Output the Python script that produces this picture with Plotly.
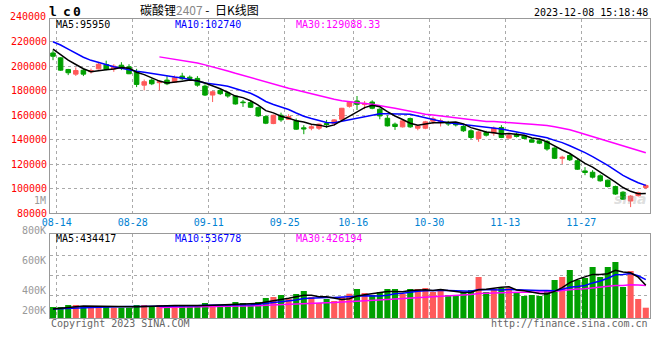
import plotly.graph_objects as go

# ---------------- data ----------------
dates = ["08-11",
         "08-14", "08-15", "08-16", "08-17", "08-18",
         "08-21", "08-22", "08-23", "08-24", "08-25",
         "08-28", "08-29", "08-30", "08-31", "09-01",
         "09-04", "09-05", "09-06", "09-07", "09-08",
         "09-11", "09-12", "09-13", "09-14", "09-15",
         "09-18", "09-19", "09-20", "09-21", "09-22",
         "09-25", "09-26", "09-27", "09-28",
         "10-09", "10-10", "10-11", "10-12", "10-13",
         "10-16", "10-17", "10-18", "10-19", "10-20",
         "10-23", "10-24", "10-25", "10-26", "10-27",
         "10-30", "10-31", "11-01", "11-02", "11-03",
         "11-06", "11-07", "11-08", "11-09", "11-10",
         "11-13", "11-14", "11-15", "11-16", "11-17",
         "11-20", "11-21", "11-22", "11-23", "11-24",
         "11-27", "11-28", "11-29", "11-30", "12-01",
         "12-04", "12-05", "12-06", "12-07"]

opens = [210800, 206800, 197300, 193500, 196700, 195400, 197800, 201300, 197800, 200800,
         199500, 195400, 184500, 188600, 186500, 188600, 187000, 191900, 191000, 190000,
         183700, 176400, 180200, 178300, 175600, 170700, 170200, 166100, 158800, 153100,
         159900, 156600, 155300, 149600, 149300, 149300, 153100, 153100, 156600, 167200,
         171550, 168600, 170700, 164800, 157450, 152600, 150400, 157200, 149300, 149300,
         155000, 154700, 153900, 153400, 150700, 147200, 140900, 145800, 145300, 149900,
         141200, 144400, 143100, 139800, 139000, 138500, 133100, 124700, 127000, 122700,
         114400, 113300, 110400, 106800, 101600, 97000, 89800, 94200, 100800]
highs = [213000, 207300, 197800, 199000, 197800, 198000, 203500, 204500, 201600, 203250,
         201600, 197800, 189100, 190000, 188600, 191900, 192400, 194600, 192400, 191900,
         185100, 180000, 181000, 179700, 175900, 172400, 171550, 167000, 159900, 160400,
         162000, 160700, 157200, 151800, 151800, 153100, 156100, 156600, 165900, 171300,
         175600, 171550, 172100, 165600, 159900, 153900, 155800, 158000, 152000, 155300,
         158800, 157200, 155300, 154400, 151800, 148500, 147200, 147200, 150700, 151800,
         145300, 145800, 143900, 140900, 140400, 139600, 133600, 126800, 128000, 124100,
         117500, 115000, 111600, 107400, 102400, 97800, 94600, 97500, 103500]
lows = [204900, 196200, 192700, 192000, 191900, 194000, 197300, 196700, 195400, 196800,
        193500, 182900, 180200, 184500, 180200, 184500, 186500, 188600, 188600, 183200,
        175600, 170700, 176400, 174200, 168600, 166700, 165800, 158500, 152600, 152600,
        154500, 156100, 147900, 144400, 147600, 147900, 149600, 151200, 156100, 166100,
        164200, 164800, 164800, 156600, 150700, 147900, 149900, 149600, 147600, 148500,
        152600, 150700, 151200, 150700, 146300, 140400, 138200, 142500, 143100, 141200,
        140900, 141700, 140400, 137600, 136300, 130900, 124100, 120000, 122500, 115200,
        110900, 108200, 105600, 100900, 94800, 90700, 84800, 93400, 99500]
closes = [208100, 196750, 194600, 196450, 193500, 196400, 201600, 197300, 200000, 199200,
          193800, 185100, 187300, 185600, 187300, 185600, 190500, 189700, 190000, 184500,
          176400, 179100, 177500, 175600, 169100, 170200, 166400, 159350, 153400, 159900,
          156100, 158800, 148500, 148800, 150400, 152600, 152300, 156100, 165600, 170500,
          168800, 169650, 165600, 159350, 151200, 150700, 155300, 150400, 151200, 154500,
          157000, 155300, 152800, 152000, 147200, 141700, 146300, 143600, 149300, 141700,
          143600, 142500, 140900, 137900, 137100, 132300, 124700, 125500, 123500, 115800,
          113100, 109300, 106300, 101700, 95500, 91300, 93800, 96650, 102500]
# closes of the 15 sessions before the first visible bar (used by the moving averages)
prior_closes = [214000, 216500, 219000, 221500, 220500, 221600, 224000, 228500, 229000,
                226500, 222000, 219500, 217500, 214000, 210870]

volumes = [237000, 237000, 257000, 257000, 247000, 230000, 247000, 247000, 230000, 230000,
           230000, 257000, 257000, 247000, 257000, 257000, 247000, 247000, 240000, 247000,
           277000, 257000, 257000, 257000, 287000, 277000, 257000, 287000, 327000, 337000,
           357000, 317000, 367000, 397000, 337000, 277000, 317000, 297000, 337000, 370000,
           417000, 377000, 357000, 387000, 417000, 417000, 367000, 417000, 417000, 427000,
           387000, 417000, 357000, 357000, 387000, 407000, 537000, 387000, 417000, 427000,
           427000, 377000, 347000, 357000, 347000, 407000, 507000, 537000, 607000, 507000,
           527000, 637000, 537000, 637000, 687000, 437000, 597000, 317000, 230000]
prior_volumes = [225000, 240000, 228000, 235000, 232000, 230000, 220000, 215000, 218000,
                 212000, 220000, 210000, 215000, 208000, 215000]

# latest moving-average readouts shown in the two legends
price_ma_last = ["95950", "102740", "129088.33"]
volume_ma_last = ["434417", "536778", "426194"]
ma_names = ["MA5", "MA10", "MA30"]

tick_dates = ["08-14", "08-28", "09-11", "09-25", "10-16", "10-30", "11-13", "11-27"]
price_ticks = [80000, 100000, 120000, 140000, 160000, 180000, 200000, 220000]
vol_grid = [357000, 557000, 757000]
vol_labels = ["800K", "600K", "400K", "200K"]

# ---------------- helpers ----------------
RED = "#ff5a5a"
GREEN = "#00a000"
MA_COLORS = ["#000000", "#0000ff", "#ff00ff"]
MONO = "DejaVu Sans Mono"

n = len(closes)
idx = list(range(n))


def moving_avg(prior, vals, w):
    allv = prior + vals
    off = len(prior)
    out = []
    for i in range(len(vals)):
        s = i + off - w + 1
        out.append(None if s < 0 else sum(allv[s:i + off + 1]) / w)
    return out


price_mas = [moving_avg(prior_closes, closes, w) for w in (5, 10, 30)]
vol_mas = [moving_avg(prior_volumes, volumes, w) for w in (5, 10, 30)]

tick_pos = [dates.index(d) - 0.5 for d in tick_dates]
vol_colors = [RED if c >= o else GREEN for o, c in zip(opens, closes)]

W, H = 660, 360
L, R, T, B = 50, 10, 19, 42
PB = H - B
PH = H - T - B


def px(x):
    return (x - L) / (W - L - R)


def py(y):
    return (PB - y) / PH


fig = go.Figure()

fig.add_trace(go.Candlestick(
    x=idx, open=opens, high=highs, low=lows, close=closes,
    increasing=dict(line=dict(color=RED, width=1), fillcolor=RED),
    decreasing=dict(line=dict(color=GREEN, width=1), fillcolor=GREEN),
    whiskerwidth=0, xaxis="x", yaxis="y", showlegend=False, hoverinfo="skip"))

for vals, col in reversed(list(zip(price_mas, MA_COLORS))):
    fig.add_trace(go.Scatter(x=idx, y=vals, mode="lines", line=dict(color=col, width=1.5),
                             xaxis="x", yaxis="y", showlegend=False, hoverinfo="skip"))

fig.add_trace(go.Bar(x=idx, y=volumes, marker=dict(color=vol_colors, line=dict(width=0)),
                     xaxis="x2", yaxis="y2", showlegend=False, hoverinfo="skip"))
for vals, col in reversed(list(zip(vol_mas, MA_COLORS))):
    fig.add_trace(go.Scatter(x=idx, y=vals, mode="lines", line=dict(color=col, width=1.5),
                             xaxis="x2", yaxis="y2", showlegend=False, hoverinfo="skip"))

xr = [(L - 53) / 7.6, (W - R - 53) / 7.6]
price_top = 80000 + (213 - T) * 817.3
vol_bottom = 200000 + (310.7 - PB) * 10000
vol_top = 200000 + (310.7 - 234) * 10000

axis_common = dict(showline=True, mirror=True, linecolor="#999999", linewidth=1,
                   showgrid=True, gridcolor="#aaaaaa", griddash="dot", gridwidth=1,
                   zeroline=False, ticks="")

fig.update_layout(
    width=W, height=H,
    margin=dict(l=L, r=R, t=T, b=B),
    paper_bgcolor="white", plot_bgcolor="white",
    boxgap=0.15, bargap=0.2,
    xaxis=dict(range=xr, domain=[0, 1], anchor="y", tickmode="array", tickvals=tick_pos,
               ticktext=tick_dates, tickfont=dict(family=MONO, size=10, color="#0082d2"),
               rangeslider=dict(visible=False), **axis_common),
    yaxis=dict(range=[80000, price_top], domain=[py(213), 1], anchor="x", tickmode="array",
               tickvals=price_ticks, ticktext=[str(v) for v in price_ticks],
               tickfont=dict(family=MONO, size=10, color="#ff0000"), **axis_common),
    xaxis2=dict(range=xr, domain=[0, 1], anchor="y2", matches="x", tickmode="array",
                tickvals=tick_pos, showticklabels=False, **axis_common),
    yaxis2=dict(range=[vol_bottom, vol_top], domain=[0, py(234)], anchor="x2",
                tickmode="array", tickvals=vol_grid, showticklabels=False, **axis_common),
)

ann = []


def text(x, y, s, color="#000000", size=10, family=MONO, anchor="left"):
    ann.append(dict(x=px(x), y=py(y), xref="paper", yref="paper", text=s, showarrow=False,
                    xanchor=anchor, yanchor="middle", borderpad=0,
                    font=dict(family=family, size=size, color=color)))


for ch, cx in [("l", 52.5), ("c", 66.5), ("0", 76.7)]:
    ann.append(dict(x=px(cx), y=py(11.5), xref="paper", yref="paper", text="<b>%s</b>" % ch,
                    showarrow=False, xanchor="center", yanchor="middle", borderpad=0,
                    font=dict(family=MONO, size=13, color="#000000")))
text(139, 9.5, "碳酸锂<span style='color:#888888'>2407</span> -  日K线图", size=12,
     family="Noto Sans CJK SC")
text(649, 12, "2023-12-08 15:18:48", anchor="right")
text(47, 16, "240000", color="#ff0000", anchor="right")
text(47, 200.7, "1M", color="#999999", anchor="right")
for name, val, col, x0 in zip(ma_names, price_ma_last, MA_COLORS, (55, 174, 295)):
    text(x0, 24.5, "%s:%s" % (name, val), color=col)
for name, val, col, x0 in zip(ma_names, volume_ma_last, MA_COLORS, (55, 174, 295)):
    text(x0, 238.5, "%s:%s" % (name, val), color=col)
for lab, yy in zip(vol_labels, (230, 260.7, 290.7, 310.7)):
    text(47, yy, lab, color="#999999", anchor="right")
text(50, 323.5, "Copyright 2023 SINA.COM", color="#666666")
text(649, 323.5, "http://finance.sina.com.cn", color="#666666", anchor="right")
text(648, 199, "<b><i>sina</i></b>", color="rgba(170,170,170,0.4)", size=14,
     family="DejaVu Sans", anchor="right")

fig.update_layout(annotations=ann)
fig.write_html("out.html", config={"displayModeBar": False},
               post_script="document.body.style.margin='0px';")
